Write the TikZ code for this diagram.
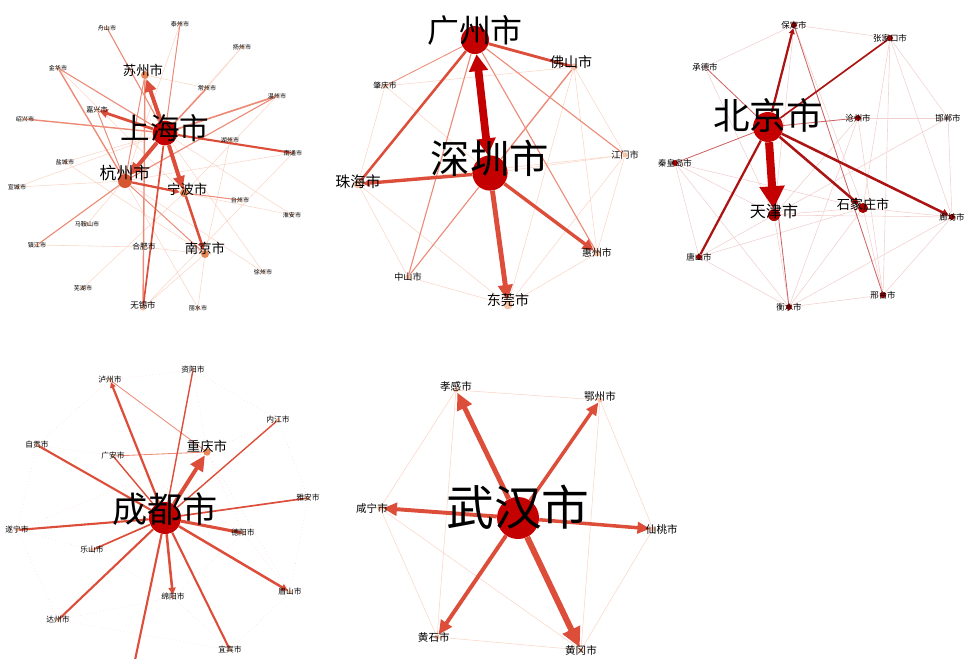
\documentclass[tikz,border=0pt]{standalone}
\usepackage{fontspec}
\newfontfamily\cjk{Noto Sans CJK SC}
\usetikzlibrary{positioning,arrows.meta,backgrounds}

\definecolor{hubred}{RGB}{196,0,0}
\definecolor{hzred}{RGB}{214,86,50}
\definecolor{midorange}{RGB}{232,135,85}
\definecolor{paleorange}{RGB}{247,196,168}
\definecolor{bjdot}{RGB}{165,0,0}
\definecolor{bjpale}{RGB}{240,200,200}
\definecolor{edgered}{RGB}{220,78,58}
\definecolor{edgesoft}{RGB}{236,140,120}
\definecolor{pinkline}{RGB}{250,214,200}
\definecolor{bjedge}{RGB}{172,20,20}
\definecolor{bjsoft}{RGB}{205,100,100}
\definecolor{bjfaint}{RGB}{242,208,208}

\begin{document}
\begin{tikzpicture}[x=0.025cm,y=-0.025cm,
		hub/.style={circle,fill=hubred,inner sep=0pt,minimum size=#1},
		city/.style={circle,fill=midorange,inner sep=0pt,minimum size=2mm},
		town/.style={circle,fill=paleorange,inner sep=0pt,minimum size=1mm},
		bjtown/.style={circle,fill=bjdot,inner sep=0pt,minimum size=1.5mm},
		txt/.style={font=\cjk\fontsize{#1}{#1}\selectfont},
		link/.style={draw=edgered,line width=#1},
		soft/.style={draw=edgesoft,line width=#1},
		faint/.style={draw=pinkline,line width=0.4pt},
		bjlink/.style={draw=bjedge,line width=#1},
		bjthin/.style={draw=bjsoft,line width=0.6pt},
		bjfaint/.style={draw=bjfaint,line width=0.4pt},
		arr/.style 2 args={-{Triangle[length=#1,width=#2]}}]
	\useasboundingbox (0,0) rectangle (971,658);

	% Shanghai
	\node[hub=0.62cm,label={[txt=21,yshift=0.13cm]center:上海市}]	(sh)	at (165,133)	{};
	\node[city,fill=hzred,minimum size=0.35cm,label={[txt=12,yshift=0.2cm]center:杭州市}]	(hz)	at (125,181)	{};
	\node[city,label={[txt=9.5,xshift=-0.05cm,yshift=0.12cm]center:苏州市}]	(su)	at (145,75)	{};
	\node[city,label={[txt=9.5,xshift=0.08cm,yshift=0.08cm]center:宁波市}]	(nb)	at (184,193)	{};
	\node[city,label={[txt=9.5,yshift=0.15cm]center:南京市}]	(nj)	at (205,254)	{};
	\node[town,minimum size=1.3mm,label={[txt=6,yshift=0.07cm]center:无锡市}]	(wx)	at (143,308)	{};
	\node[town,label={[txt=5.5]center:合肥市}]	(hf)	at (144,247)	{};
	\node[town,label={[txt=5]center:嘉兴市}]	(jx)	at (97,110)	{};
	\node[town,label={[txt=4.3]center:舟山市}]	(zs)	at (107,28)	{};
	\node[town,label={[txt=4.3]center:泰州市}]	(tz)	at (180,24)	{};
	\node[town,label={[txt=4.3]center:扬州市}]	(yz)	at (242,47)	{};
	\node[town,label={[txt=4.3]center:金华市}]	(jh)	at (58,68)	{};
	\node[town,label={[txt=4.3]center:常州市}]	(cz)	at (207,88)	{};
	\node[town,label={[txt=4.3]center:温州市}]	(wz)	at (277,96)	{};
	\node[town,label={[txt=4.3]center:绍兴市}]	(sx)	at (25,119)	{};
	\node[town,label={[txt=4.3]center:湖州市}]	(huz)	at (230,140)	{};
	\node[town,label={[txt=4.3]center:南通市}]	(nt)	at (293,153)	{};
	\node[town,label={[txt=4.3]center:盐城市}]	(yc)	at (65,162)	{};
	\node[town,label={[txt=4.3]center:宣城市}]	(xc)	at (17,187)	{};
	\node[town,label={[txt=4.3]center:台州市}]	(tzh)	at (240,200)	{};
	\node[town,label={[txt=4.3]center:淮安市}]	(ha)	at (292,215)	{};
	\node[town,label={[txt=4.3]center:马鞍山市}]	(mas)	at (87,224)	{};
	\node[town,label={[txt=4.3]center:镇江市}]	(zj)	at (37,245)	{};
	\node[town,label={[txt=4.3]center:芜湖市}]	(wh)	at (83,288)	{};
	\node[town,label={[txt=4.3]center:徐州市}]	(xz)	at (263,272)	{};
	\node[town,label={[txt=4.3]center:丽水市}]	(ls)	at (198,308)	{};

	% Guangzhou / Shenzhen
	\node[hub=0.7cm,label={[txt=22.7,yshift=0.25cm]center:广州市}]	(gz)	at (475,40)	{};
	\node[hub=0.88cm,label={[txt=28,yshift=0.37cm]center:深圳市}]	(sz)	at (490,173)	{};
	\node[town,minimum size=1.8mm,label={[txt=10,xshift=-0.07cm,yshift=0.12cm]center:佛山市}]	(fs)	at (574,67)	{};
	\node[town,minimum size=1.3mm,label={[txt=5.5]center:肇庆市}]	(zq)	at (385,86)	{};
	\node[town,minimum size=1.3mm,label={[txt=6.5]center:江门市}]	(jm)	at (625,155)	{};
	\node[town,minimum size=2.2mm,label={[txt=10.7,yshift=0.05cm]center:珠海市}]	(zh)	at (358,184)	{};
	\node[town,minimum size=1.8mm,label={[txt=7]center:惠州市}]	(huiz)	at (597,253)	{};
	\node[town,minimum size=1.3mm,label={[txt=6.5]center:中山市}]	(zsh)	at (408,277)	{};
	\node[town,minimum size=2.2mm,label={[txt=10,yshift=0.12cm]center:东莞市}]	(dg)	at (508,305)	{};

	% Beijing
	\node[hub=0.75cm,label={[txt=26,yshift=0.3cm]center:北京市}]	(bj)	at (768,127)	{};
	\node[bjtown,minimum size=0.3cm,label={[txt=11.4,yshift=0.1cm]center:天津市}]	(tj)	at (774,215)	{};
	\node[bjtown,minimum size=0.25cm,label={[txt=9.3,yshift=0.08cm]center:石家庄市}]	(sjz)	at (863,208)	{};
	\node[bjtown,label={[txt=6]center:保定市}]	(bd)	at (794,25)	{};
	\node[bjtown,label={[txt=6]center:张家口市}]	(zjk)	at (890,38)	{};
	\node[bjtown,fill=bjpale,minimum size=1mm,label={[txt=6]center:承德市}]	(cd)	at (705,67)	{};
	\node[bjtown,label={[txt=6]center:沧州市}]	(cgz)	at (858,118)	{};
	\node[bjtown,fill=bjpale,minimum size=1mm,label={[txt=6]center:邯郸市}]	(hd)	at (948,118)	{};
	\node[bjtown,label={[txt=6]center:秦皇岛市}]	(qhd)	at (675,163)	{};
	\node[bjtown,label={[txt=6]center:廊坊市}]	(lf)	at (952,217)	{};
	\node[bjtown,label={[txt=6]center:唐山市}]	(ts)	at (699,257)	{};
	\node[bjtown,label={[txt=6]center:衡水市}]	(hs)	at (789,307)	{};
	\node[bjtown,label={[txt=6]center:邢台市}]	(xt)	at (883,295)	{};

	% Chengdu
	\node[hub=0.8cm,label={[txt=25,yshift=0.22cm]center:成都市}]	(cdu)	at (165,518)	{};
	\node[city,minimum size=1.8mm,label={[txt=9.5,yshift=0.15cm]center:重庆市}]	(cq)	at (207,452)	{};
	\node[town,label={[txt=5.5]center:泸州市}]	(lz)	at (110,380)	{};
	\node[town,label={[txt=5.5]center:资阳市}]	(zy)	at (193,370)	{};
	\node[town,label={[txt=5.5]center:内江市}]	(njg)	at (278,420)	{};
	\node[town,label={[txt=5.5]center:自贡市}]	(zg)	at (37,445)	{};
	\node[town,label={[txt=5.5]center:广安市}]	(ga)	at (113,456)	{};
	\node[town,label={[txt=5.5]center:雅安市}]	(ya)	at (308,498)	{};
	\node[town,label={[txt=5.5]center:遂宁市}]	(sn)	at (17,530)	{};
	\node[town,label={[txt=5.5]center:乐山市}]	(lsh)	at (92,550)	{};
	\node[town,label={[txt=5.5]center:德阳市}]	(dy)	at (243,533)	{};
	\node[town,label={[txt=5.5]center:达州市}]	(dz)	at (58,620)	{};
	\node[town,label={[txt=5.5]center:绵阳市}]	(my)	at (173,597)	{};
	\node[town,label={[txt=5.5]center:眉山市}]	(ms)	at (290,592)	{};
	\node[town,label={[txt=5.5]center:宜宾市}]	(yb)	at (230,650)	{};
	\coordinate (nc) at (135,660);

	% Wuhan
	\node[hub=1.05cm,label={[txt=34,yshift=0.27cm]center:武汉市}]	(whan)	at (518,518)	{};
	\node[town,minimum size=1.3mm,label={[txt=7.5,yshift=0.1cm]center:孝感市}]	(xg)	at (456,390)	{};
	\node[town,minimum size=1.3mm,label={[txt=7.5,yshift=0.1cm]center:鄂州市}]	(ezh)	at (600,400)	{};
	\node[town,minimum size=1.3mm,label={[txt=7.5,xshift=-0.2cm]center:咸宁市}]	(xn)	at (380,508)	{};
	\node[town,minimum size=1.3mm,label={[txt=7.5,xshift=0.22cm]center:仙桃市}]	(xtao)	at (653,529)	{};
	\node[town,minimum size=1.3mm,label={[txt=7.5,xshift=-0.08cm]center:黄石市}]	(hsh)	at (437,637)	{};
	\node[town,minimum size=1.3mm,label={[txt=7.5]center:黄冈市}]	(hg)	at (581,650)	{};

	\begin{pgfonlayer}{background}
	% Shanghai
	\draw[faint] (yz) -- (cz);
	\draw[faint] (yz) -- (sh);
	\draw[faint] (cz) -- (su);
	\draw[faint] (wz) -- (nb);
	\draw[faint] (nt) -- (hz);
	\draw[faint] (hf) -- (nj);
	\draw[faint] (zj) -- (hf);
	\draw[faint] (yc) -- (sh);
	\draw[faint] (xc) -- (hz);
	\draw[faint] (mas) -- (sh);
	\draw[faint] (wh) -- (nb);
	\draw[faint] (xz) -- (sh);
	\draw[faint] (ls) -- (nj);
	\draw[faint] (ha) -- (sh);
	\draw[faint] (tz) -- (hz);
	\draw[faint] (huz) -- (nj);
	\draw[faint] (wx) -- (nj);
	\draw[faint] (jh) -- (nb);
	\draw[faint] (yc) -- (nj);
	\draw[faint] (ha) -- (hz);
	\draw[faint] (ls) -- (hz);
	\draw[faint] (xz) -- (hz);
	\draw[faint] (xc) -- (sh);
	\draw[faint] (nt) -- (wx);
	\draw[soft=0.7pt] (sh) -- (tz);
	\draw[soft=0.7pt] (hz) -- (nj);
	\draw[soft=0.7pt] (nb) -- (tzh);
	\draw[soft=0.7pt] (hz) -- (su);
	\draw[soft=0.7pt] (jx) -- (hz);
	\draw[soft=0.8pt] (zs) -- (sh);
	\draw[soft=0.8pt] (hz) -- (wz);
	\draw[soft=0.8pt] (zj) -- (hz);
	\draw[soft=0.8pt] (jh) -- (sh);
	\draw[soft=1pt] (jh) -- (hz);
	\draw[soft=1pt] (sh) -- (cz);
	\draw[soft=1pt] (sh) -- (sx);
	\draw[soft=1.2pt] (sh) -- (wz);
	\draw[soft=1pt] (su) -- (wx);
	\draw[link=1.2pt] (sh) -- (wx);
	\draw[link=1.5pt] (sh) -- (nt);
	\draw[link=2pt,arr={6pt}{6pt}] (sh) -- (jx);
	\draw[link=1.6pt,arr={4pt}{4pt}] (hz) -- (nb);
	\draw[link=1.8pt,arr={5pt}{5pt}] (sh) -- (nj);
	\draw[link=2.8pt,arr={9pt}{8pt}] (sh) -- (su);
	\draw[link=2.8pt,arr={9pt}{8pt}] (sh) -- (hz);
	\draw[link=2.8pt,arr={9pt}{8pt}] (sh) -- (nb);

	% Guangzhou / Shenzhen
	\draw[faint] (zh) -- (zsh);
	\draw[faint] (zh) -- (dg);
	\draw[faint] (zsh) -- (dg);
	\draw[faint] (dg) -- (huiz);
	\draw[faint] (huiz) -- (jm);
	\draw[faint] (jm) -- (fs);
	\draw[faint] (zq) -- (sz);
	\draw[faint] (fs) -- (huiz);
	\draw[faint] (fs) -- (dg);
	\draw[faint] (jm) -- (dg);
	\draw[faint] (zh) -- (jm);
	\draw[faint] (zq) -- (zh);
	\draw[faint] (zq) -- (fs);
	\draw[faint] (jm) -- (sz);
	\draw[soft=0.6pt] (gz) -- (zq);
	\draw[soft=0.8pt] (gz) -- (huiz);
	\draw[soft=0.8pt] (gz) -- (jm);
	\draw[soft=0.8pt] (gz) -- (zsh);
	\draw[soft=0.8pt] (sz) -- (zsh);
	\draw[soft=1pt] (fs) -- (sz);
	\draw[link=1.8pt] (gz) -- (zh);
	\draw[link=2pt] (gz) -- (fs);
	\draw[link=2.4pt,arr={5pt}{5pt}] (sz) -- (zh);
	\draw[link=2.4pt,arr={8pt}{8pt}] (sz) -- (huiz);
	\draw[link=3.5pt,arr={11pt}{10pt}] (sz) -- (dg);
	\draw[draw=hubred,line width=5.5pt,{Triangle[length=12pt,width=13pt]}-{Triangle[length=12pt,width=13pt]}] (gz) -- (sz);

	% Beijing
	\draw[bjfaint] (tj) -- (sjz);
	\draw[bjfaint] (tj) -- (ts);
	\draw[bjfaint] (tj) -- (hs);
	\draw[bjfaint] (tj) -- (lf);
	\draw[bjfaint] (sjz) -- (ts);
	\draw[bjfaint] (sjz) -- (hs);
	\draw[bjfaint] (sjz) -- (xt);
	\draw[bjfaint] (sjz) -- (lf);
	\draw[bjfaint] (sjz) -- (bd);
	\draw[bjfaint] (zjk) -- (xt);
	\draw[bjfaint] (zjk) -- (sjz);
	\draw[bjfaint] (zjk) -- (lf);
	\draw[bjfaint] (cd) -- (tj);
	\draw[bjfaint] (cd) -- (bd);
	\draw[bjfaint] (qhd) -- (ts);
	\draw[bjfaint] (qhd) -- (tj);
	\draw[bjfaint] (qhd) -- (sjz);
	\draw[bjfaint] (ts) -- (hs);
	\draw[bjfaint] (hs) -- (xt);
	\draw[bjfaint] (hs) -- (lf);
	\draw[bjfaint] (xt) -- (lf);
	\draw[bjfaint] (hd) -- (lf);
	\draw[bjfaint] (hd) -- (tj);
	\draw[bjfaint] (cgz) -- (hs);
	\draw[bjfaint] (cgz) -- (tj);
	\draw[bjfaint] (cgz) -- (hd);
	\draw[bjfaint] (bd) -- (zjk);
	\draw[bjfaint] (bd) -- (tj);
	\draw[bjfaint] (qhd) -- (hs);
	\draw[bjfaint] (cgz) -- (xt);
	\draw[bjfaint] (zjk) -- (hd);
	\draw[bjthin] (bj) -- (qhd);
	\draw[bjthin] (bj) -- (cgz);
	\draw[bjthin] (bj) -- (cd);
	\draw[bjthin] (bj) -- (hs);
	\draw[bjthin] (bd) -- (xt);
	\draw[bjlink=1.2pt] (bj) -- (zjk);
	\draw[bjlink=1.6pt,arr={4pt}{4pt}] (bj) -- (bd);
	\draw[bjlink=1.6pt] (bj) -- (ts);
	\draw[bjlink=1.8pt,arr={5pt}{5pt}] (bj) -- (sjz);
	\draw[bjlink=1.8pt,arr={5pt}{5pt}] (bj) -- (lf);
	\draw[draw=hubred,line width=5.7pt,arr={16pt}{17pt}] (bj) -- (tj);

	% Chengdu
	\draw[faint,dotted] (lz) -- (zy);
	\draw[faint,dotted] (zg) -- (lz);
	\draw[faint,dotted] (zy) -- (njg);
	\draw[faint,dotted] (njg) -- (ya);
	\draw[faint,dotted] (ya) -- (ms);
	\draw[faint,dotted] (ms) -- (yb);
	\draw[faint,dotted] (dz) -- (sn);
	\draw[faint,dotted] (sn) -- (zg);
	\draw[faint,dotted] (lsh) -- (my);
	\draw[faint,dotted] (my) -- (dy);
	\draw[faint,dotted] (dy) -- (ms);
	\draw[faint,dotted] (cq) -- (dy);
	\draw[faint,dotted] (cq) -- (ms);
	\draw[faint,dotted] (cq) -- (njg);
	\draw[faint,dotted] (zg) -- (ga);
	\draw[faint,dotted] (sn) -- (lsh);
	\draw[faint,dotted] (dz) -- (my);
	\draw[faint,dotted] (yb) -- (my);
	\draw[faint,dotted] (zy) -- (cq);
	\draw[faint,dotted] (ga) -- (dy);
	\draw[faint,dotted] (sn) -- (cq);
	\draw[faint,dotted] (dz) -- (yb);
	\draw[soft=0.6pt] (lz) -- (cq);
	\draw[soft=0.6pt] (ga) -- (cq);
	\draw[link=1pt] (cdu) -- (zy);
	\draw[link=1pt] (cdu) -- (njg);
	\draw[link=1pt] (cdu) -- (ga);
	\draw[link=1.2pt] (cdu) -- (ya);
	\draw[link=1.2pt] (cdu) -- (lsh);
	\draw[link=1.5pt] (cdu) -- (zg);
	\draw[link=1.5pt] (cdu) -- (sn);
	\draw[link=1.5pt] (cdu) -- (dz);
	\draw[link=1.5pt] (cdu) -- (yb);
	\draw[link=1.5pt] (cdu) -- (nc);
	\draw[link=1.6pt,arr={4pt}{4pt}] (cdu) -- (lz);
	\draw[link=2.2pt] (cdu) -- (dy);
	\draw[link=1.8pt,arr={5pt}{5pt}] (cdu) -- (my);
	\draw[link=1.8pt,arr={5pt}{5pt}] (cdu) -- (ms);
	\draw[link=2.8pt,arr={11pt}{10pt}] (cdu) -- (cq);

	% Wuhan
	\draw[faint] (xg) -- (hsh);
	\draw[faint] (xn) -- (hsh);
	\draw[faint] (hsh) -- (hg);
	\draw[faint] (ezh) -- (xtao);
	\draw[faint] (xtao) -- (hg);
	\draw[faint] (xn) -- (hg);
	\draw[faint] (xg) -- (ezh);
	\draw[faint] (ezh) -- (hg);
	\draw[faint] (xg) -- (xn);
	\draw[link=2.5pt,arr={9pt}{8pt}] (whan) -- (ezh);
	\draw[link=2.5pt,arr={9pt}{8pt}] (whan) -- (xtao);
	\draw[link=2.8pt,arr={10pt}{9pt}] (whan) -- (xn);
	\draw[link=2.8pt,arr={10pt}{9pt}] (whan) -- (hsh);
	\draw[link=3.5pt,arr={12pt}{11pt}] (whan) -- (xg);
	\draw[link=4.3pt,arr={14pt}{13pt}] (whan) -- (hg);
	\end{pgfonlayer}
\end{tikzpicture}
\end{document}
